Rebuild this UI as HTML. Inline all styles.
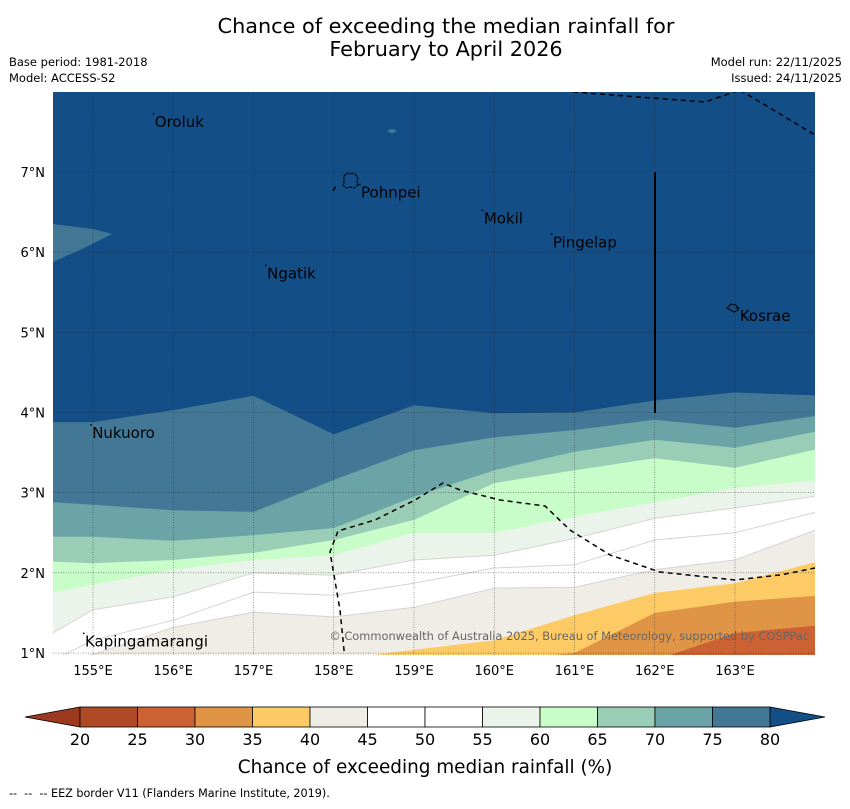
<!DOCTYPE html>
<html><head><meta charset="utf-8"><style>
body{margin:0;background:#fff;}
svg text{font-family:"DejaVu Sans","Liberation Sans",sans-serif;}
</style></head><body>
<svg id="chart" width="850" height="804" viewBox="0 0 850 804" xmlns="http://www.w3.org/2000/svg">
<rect width="850" height="804" fill="#fff"/>
<text x="446" y="33" font-size="20.8" text-anchor="middle">Chance of exceeding the median rainfall for</text>
<text x="446" y="56" font-size="20.8" text-anchor="middle">February to April 2026</text>
<text x="9" y="66" font-size="11.5">Base period: 1981-2018</text>
<text x="9" y="82" font-size="11.5">Model: ACCESS-S2</text>
<text x="842" y="66" font-size="11.5" text-anchor="end">Model run: 22/11/2025</text>
<text x="842" y="82" font-size="11.5" text-anchor="end">Issued: 24/11/2025</text>
<defs><clipPath id="mapclip"><rect x="53" y="92" width="762" height="563"/></clipPath></defs>
<g id="map" clip-path="url(#mapclip)"></g>
<g id="axes"></g>
<g id="cbar"></g>
<text x="425" y="773" font-size="18.4" text-anchor="middle">Chance of exceeding median rainfall (%)</text>
<text x="9" y="797" font-size="11.2" xml:space="preserve">--  --  -- EEZ border V11 (Flanders Marine Institute, 2019).</text>
</svg>
<script>
const NS="http://www.w3.org/2000/svg";
const lons=[154.5,155,156,157,158,159,160,161,162,163,164.1];
const levels=[80,75,70,65,60,55,50,45,40,35,30,25];
const b80=[3.88,3.88,4.03,4.21,3.73,4.09,3.99,4.00,4.15,4.25,4.21];
const b75=[2.88,2.85,2.78,2.76,3.16,3.53,3.69,3.78,3.91,3.81,3.97];
const b70=[2.45,2.45,2.40,2.47,2.56,2.95,3.28,3.51,3.66,3.56,3.78];
const b65=[2.14,2.12,2.16,2.25,2.41,2.66,3.12,3.28,3.43,3.31,3.56];
const b60=[1.76,1.85,2.04,2.16,2.22,2.50,2.50,2.70,2.88,3.06,3.16];
const b55=[1.25,1.54,1.70,2.00,1.97,2.16,2.22,2.43,2.68,2.81,2.97];
const b50=[0.91,1.16,1.41,1.76,1.72,1.87,2.06,2.10,2.41,2.50,2.78];
const b45=[0.91,0.98,1.32,1.51,1.45,1.57,1.81,1.82,2.04,2.16,2.57];
const b40=[0.91,0.91,0.91,0.91,0.91,1.04,1.16,1.47,1.75,1.87,2.16];
const b35=[0.91,0.91,0.91,0.91,0.91,0.91,0.91,1.00,1.50,1.64,1.72];
const b30=[0.91,0.91,0.91,0.91,0.91,0.91,0.91,0.91,0.91,1.25,1.35];
const b25=[0.90,0.90,0.90,0.90,0.90,0.90,0.90,0.90,0.90,0.90,0.90];
const bounds=[b80,b75,b70,b65,b60,b55,b50,b45,b40,b35,b30,b25];
const binColors=["#b04a26","#cc6133","#e09445","#fdcb66","#f0ece6","#ffffff","#ffffff","#eaf4ea","#c8fcc8","#99cdb6","#6aa4a6","#427896"];
const overColor="#134e86", underColor="#9c3a1f";
const cbTicks=[20,25,30,35,40,45,50,55,60,65,70,75,80];
const lonTicks=[155,156,157,158,159,160,161,162,163];
const latTicks=[1,2,3,4,5,6,7];
const placeNames=["Oroluk","Pohnpei","Mokil","Pingelap","Ngatik","Kosrae","Nukuoro","Kapingamarangi"];
const placeLons=[155.77,158.34,159.87,160.73,157.17,163.06,154.99,154.90];
const placeLats=[7.56,6.68,6.36,6.06,5.67,5.14,3.68,1.08];
const X=lon=>93+(lon-155)*80.25;
const Y=lat=>172+(7-lat)*80.17;
function el(t,a,p){const e=document.createElementNS(NS,t);for(const k in a)e.setAttribute(k,a[k]);p.appendChild(e);return e;}
const map=document.getElementById('map'),axes=document.getElementById('axes'),cb=document.getElementById('cbar');
el('rect',{x:53,y:92,width:762,height:563,fill:overColor},map);
const lp=el('polygon',{points:`53,224 93,229 112,234 80,250 53,262`,fill:"#427896"},map);


bounds.forEach((b,i)=>{
  let pts=lons.map((l,j)=>X(l).toFixed(1)+","+Y(b[j]).toFixed(1));
  pts.push(X(164.2)+","+700, X(154.4)+","+700);
  const lv=levels[i];
  const p=el('polygon',{points:pts.join(" "),fill:binColors[binColors.length-1-i],stroke:(lv<=55&&lv>=45)?"#d4d4d4":"none","stroke-width":1},map);
  
  
});
lonTicks.forEach(l=>{const g=el('line',{x1:X(l),x2:X(l),y1:92,y2:655,stroke:"#222","stroke-width":0.6,"stroke-dasharray":"1,1.5",opacity:0.7},map);

});
latTicks.forEach(l=>{const g=el('line',{x1:53,x2:815,y1:Y(l),y2:Y(l),stroke:"#222","stroke-width":0.6,"stroke-dasharray":"1,1.5",opacity:0.7},map);

});
const eez=[[[573,92],[705,102],[740,90]],[[740,90],[815,135]],[[345,660],[340,610],[330,552],[338,531],[375,520],[415,500],[443,483],[460,490],[500,500],[545,506],[570,530],[610,555],[660,572],[735,580],[780,575],[815,568]],[[333,191],[336,186]]];
eez.forEach(s=>{const p=el('polyline',{points:s.map(q=>q.join(",")).join(" "),fill:"none",stroke:"#000","stroke-width":1.5,"stroke-dasharray":"5,4"},map);

});
const vl=el('line',{x1:655,x2:655,y1:172,y2:413,stroke:"#000","stroke-width":2},map);


const pi=el('path',{d:"M344,176 l3,-3 l3,1 l3,-1 l3,2 l2,4 l-1,3 l1,3 l-4,3 l-4,-1 l-4,1 l-3,-3 l1,-3 z",fill:"none",stroke:"#000","stroke-width":1.2,"stroke-dasharray":"3,1"},map);


const ki=el('path',{d:"M727,308 l4,-4 l5,1 l2,5 l-4,2 z",fill:"none",stroke:"#000","stroke-width":1},map);


const sp=el('ellipse',{cx:392,cy:131,rx:4,ry:2,fill:"#427896"},map);


placeNames.forEach((n,i)=>{const x=X(placeLons[i]),y=Y(placeLats[i]);
const d=el('rect',{x:x-2,y:y-14,width:1.5,height:1.5,fill:"#000"},map);


const t=el('text',{x:x,y:y,"font-size":15,fill:"#000"},map);t.textContent=n;

});
const cr=el('text',{x:809,y:640,"font-size":11.4,fill:"#666","text-anchor":"end"},map);cr.textContent="© Commonwealth of Australia 2025, Bureau of Meteorology, supported by COSPPac";


lonTicks.forEach(l=>{const t=el('text',{x:X(l),y:675,"font-size":13,"text-anchor":"middle"},axes);t.textContent=l+"°E";

});
latTicks.forEach(l=>{const t=el('text',{x:45,y:Y(l)+5,"font-size":13,"text-anchor":"end"},axes);t.textContent=l+"°N";

});
const cx=v=>80+(v-20)*11.5;
const ut=el('polygon',{points:"80,707 25,717 80,727",fill:underColor,stroke:"#000","stroke-width":0.8},cb);


const ot=el('polygon',{points:"770,707 825,717 770,727",fill:overColor,stroke:"#000","stroke-width":0.8},cb);


binColors.forEach((c,i)=>{const r=el('rect',{x:cx(cbTicks[i]),y:707,width:cx(cbTicks[i+1])-cx(cbTicks[i]),height:20,fill:c,stroke:"#000","stroke-width":0.8},cb);

});
cbTicks.forEach(v=>{const t=el('text',{x:cx(v),y:745,"font-size":16,"text-anchor":"middle"},cb);t.textContent=v;

});
</script>
</body></html>
